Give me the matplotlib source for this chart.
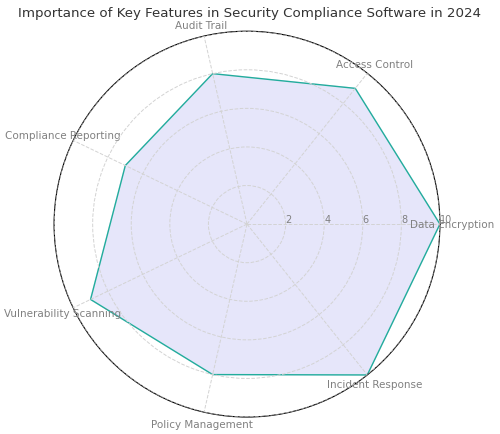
import numpy as np
import matplotlib
matplotlib.use("Agg")
import matplotlib.pyplot as plt

categories = ['Data Encryption', 'Access Control', 'Audit Trail', 'Compliance Reporting',
              'Vulnerability Scanning', 'Policy Management', 'Incident Response']
values = [10, 9, 8, 7, 9, 8, 10]
rticks = [2, 4, 6, 8, 10]

n = len(categories)
angles = np.linspace(0, 2 * np.pi, n, endpoint=False).tolist()
vals = values + values[:1]
angs = angles + angles[:1]

fig = plt.figure(figsize=(5, 4.35), dpi=100)
ax = fig.add_axes([0.108, 0.039, 0.772, 0.887], polar=True)

ax.fill(angs, vals, color='lavender', alpha=1.0, zorder=1)
ax.plot(angs, vals, color='#22ad9c', linewidth=1.0, zorder=2)

ax.set_ylim(0, 10)
ax.set_yticks(rticks)
ax.set_yticklabels([str(t) for t in rticks], color='gray', fontsize=7)
ax.set_rlabel_position(0)
ax.set_xticks(angles)
ax.set_xticklabels(categories, color='gray', fontsize=7.5)
ax.tick_params(axis='x', pad=-2)
ax.grid(color='lightgray', linestyle='--', linewidth=0.7)
ax.spines['polar'].set_color('black')
ax.spines['polar'].set_linewidth(0.8)
ax.set_axisbelow(False)

fig.suptitle('Importance of Key Features in Security Compliance Software in 2024',
             fontsize=9.6, color='#333333', y=0.985)

plt.savefig('out.png', dpi=100)
